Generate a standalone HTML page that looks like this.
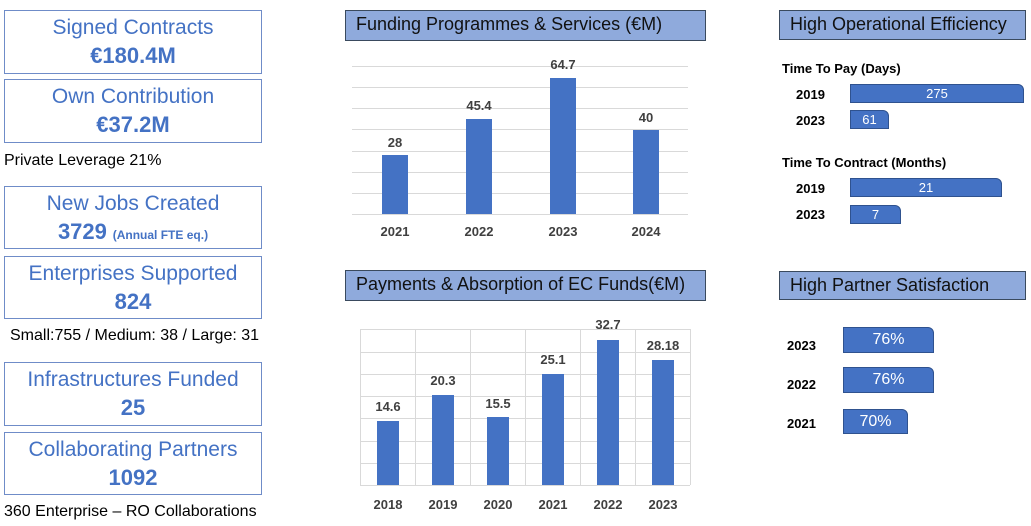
<!DOCTYPE html>
<html><head><meta charset="utf-8"><style>
*{margin:0;padding:0;box-sizing:border-box}
body{width:1031px;height:526px;background:#fff;position:relative;overflow:hidden;font-family:"Liberation Sans",sans-serif}
.a{position:absolute}
.box{position:absolute;left:4px;width:258px;border:1.5px solid #6f8cc8;color:#4472c4;text-align:center;font-size:21px;line-height:28px;padding-top:3px}
.box b{font-size:22px}
.t{position:absolute;font-size:16px;color:#000}
.title{position:absolute;background:#8faadc;border:1.5px solid #3a4a5e;font-size:18px;color:#111;padding-left:10px;line-height:27px}
.g{position:absolute;height:1px;background:#d9d9d9}
.v{position:absolute;width:1px;background:#d9d9d9}
.bar{position:absolute;background:#4472c4}
.lb{position:absolute;font-size:13px;font-weight:bold;color:#404040;width:60px;text-align:center}
.hb{position:absolute;background:#4472c4;border:1px solid #2f528f;border-top-right-radius:6px;color:#fff;text-align:center;font-size:13px}
.yl{position:absolute;font-size:13px;font-weight:bold;color:#000}
</style></head><body>
<div class="box" style="top:10px;height:64px">Signed Contracts<br><b>€180.4M</b></div>
<div class="box" style="top:79px;height:64px">Own Contribution<br><b>€37.2M</b></div>
<div class="t" style="left:4px;top:152px">Private Leverage 21%</div>
<div class="box" style="top:186px;height:63px">New Jobs Created<br><b>3729</b> <span style="font-size:12px;font-weight:bold">(Annual FTE eq.)</span></div>
<div class="box" style="top:256px;height:63px">Enterprises Supported<br><b>824</b></div>
<div class="t" style="left:10px;top:327px">Small:755 / Medium: 38 / Large: 31</div>
<div class="box" style="top:362px;height:64px">Infrastructures Funded<br><b>25</b></div>
<div class="box" style="top:432px;height:63px">Collaborating Partners<br><b>1092</b></div>
<div class="t" style="left:4px;top:503px">360 Enterprise – RO Collaborations</div>

<div class="title" style="left:345px;top:10px;width:361px;height:31px">Funding Programmes &amp; Services (€M)</div>
<div class="g" style="left:352px;width:336px;top:66px"></div>
<div class="g" style="left:352px;width:336px;top:87px"></div>
<div class="g" style="left:352px;width:336px;top:108px"></div>
<div class="g" style="left:352px;width:336px;top:129px"></div>
<div class="g" style="left:352px;width:336px;top:151px"></div>
<div class="g" style="left:352px;width:336px;top:172px"></div>
<div class="g" style="left:352px;width:336px;top:193px"></div>
<div class="g" style="left:352px;width:336px;top:214px"></div>
<div class="bar" style="left:382px;width:26px;top:155px;height:59px"></div>
<div class="bar" style="left:466px;width:26px;top:119px;height:95px"></div>
<div class="bar" style="left:550px;width:26px;top:78px;height:136px"></div>
<div class="bar" style="left:633px;width:26px;top:130px;height:84px"></div>
<div class="lb" style="left:365px;top:135px">28</div>
<div class="lb" style="left:449px;top:98px">45.4</div>
<div class="lb" style="left:533px;top:57px">64.7</div>
<div class="lb" style="left:616px;top:110px">40</div>
<div class="lb" style="left:365px;top:224px">2021</div>
<div class="lb" style="left:449px;top:224px">2022</div>
<div class="lb" style="left:533px;top:224px">2023</div>
<div class="lb" style="left:616px;top:224px">2024</div>

<div class="title" style="left:345px;top:270px;width:361px;height:31px">Payments &amp; Absorption of EC Funds(€M)</div>
<div class="g" style="left:360px;width:330px;top:329px"></div>
<div class="g" style="left:360px;width:330px;top:352px"></div>
<div class="g" style="left:360px;width:330px;top:374px"></div>
<div class="g" style="left:360px;width:330px;top:396px"></div>
<div class="g" style="left:360px;width:330px;top:418px"></div>
<div class="g" style="left:360px;width:330px;top:441px"></div>
<div class="g" style="left:360px;width:330px;top:463px"></div>
<div class="g" style="left:360px;width:330px;top:485px"></div>
<div class="v" style="left:360px;top:329px;height:156px"></div>
<div class="v" style="left:415px;top:329px;height:156px"></div>
<div class="v" style="left:470px;top:329px;height:156px"></div>
<div class="v" style="left:525px;top:329px;height:156px"></div>
<div class="v" style="left:580px;top:329px;height:156px"></div>
<div class="v" style="left:635px;top:329px;height:156px"></div>
<div class="v" style="left:690px;top:329px;height:156px"></div>
<div class="bar" style="left:377px;width:22px;top:421px;height:64px"></div>
<div class="bar" style="left:432px;width:22px;top:395px;height:90px"></div>
<div class="bar" style="left:487px;width:22px;top:417px;height:68px"></div>
<div class="bar" style="left:542px;width:22px;top:374px;height:111px"></div>
<div class="bar" style="left:597px;width:22px;top:340px;height:145px"></div>
<div class="bar" style="left:652px;width:22px;top:360px;height:125px"></div>
<div class="lb" style="left:358px;top:399px">14.6</div>
<div class="lb" style="left:413px;top:373px">20.3</div>
<div class="lb" style="left:468px;top:396px">15.5</div>
<div class="lb" style="left:523px;top:352px">25.1</div>
<div class="lb" style="left:578px;top:317px">32.7</div>
<div class="lb" style="left:633px;top:338px">28.18</div>
<div class="lb" style="left:358px;top:497px">2018</div>
<div class="lb" style="left:413px;top:497px">2019</div>
<div class="lb" style="left:468px;top:497px">2020</div>
<div class="lb" style="left:523px;top:497px">2021</div>
<div class="lb" style="left:578px;top:497px">2022</div>
<div class="lb" style="left:633px;top:497px">2023</div>

<div class="title" style="left:779px;top:10px;width:247px;height:30px">High Operational Efficiency</div>
<div class="yl" style="left:782px;top:61px">Time To Pay (Days)</div>
<div class="yl" style="left:796px;top:87px">2019</div>
<div class="hb" style="left:850px;top:84px;width:174px;height:19px;line-height:17px">275</div>
<div class="yl" style="left:796px;top:113px">2023</div>
<div class="hb" style="left:850px;top:110px;width:39px;height:19px;line-height:17px">61</div>
<div class="yl" style="left:782px;top:155px">Time To Contract (Months)</div>
<div class="yl" style="left:796px;top:181px">2019</div>
<div class="hb" style="left:850px;top:178px;width:152px;height:19px;line-height:17px">21</div>
<div class="yl" style="left:796px;top:207px">2023</div>
<div class="hb" style="left:850px;top:205px;width:51px;height:19px;line-height:17px">7</div>

<div class="title" style="left:779px;top:271px;width:247px;height:29px;line-height:26px">High Partner Satisfaction</div>
<div class="yl" style="left:787px;top:338px">2023</div>
<div class="hb" style="left:843px;top:327px;width:91px;height:26px;line-height:24px;font-size:16px">76%</div>
<div class="yl" style="left:787px;top:377px">2022</div>
<div class="hb" style="left:843px;top:367px;width:91px;height:26px;line-height:24px;font-size:16px">76%</div>
<div class="yl" style="left:787px;top:416px">2021</div>
<div class="hb" style="left:843px;top:409px;width:65px;height:25px;line-height:23px;font-size:16px">70%</div>
</body></html>
